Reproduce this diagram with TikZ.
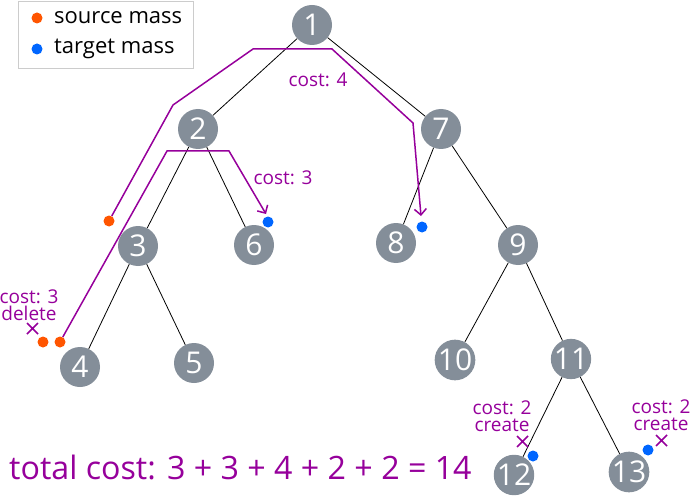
\documentclass[tikz,border=0pt]{standalone}
\usepackage{fontspec}
\setmainfont{Open Sans}
\usetikzlibrary{arrows.meta}
\definecolor{ngray}{RGB}{132,142,153}
\definecolor{cpurple}{RGB}{150,0,155}
\definecolor{corange}{RGB}{255,85,0}
\definecolor{cblue}{RGB}{0,102,255}
\tikzset{
  tnode/.style={circle,fill=ngray,minimum size=40pt,inner sep=0pt,text=white,font=\fontsize{30}{30}\selectfont},
  tedge/.style={black,line width=0.8pt},
  flow/.style={cpurple,line width=1.5pt,line join=miter},
  flowarrow/.style={flow,-{Straight Barb[length=6pt,width=12pt,line width=1.5pt]}},
  srcdot/.style={circle,fill=corange,minimum size=11pt,inner sep=0pt},
  tgtdot/.style={circle,fill=cblue,minimum size=11pt,inner sep=0pt},
  costlbl/.style={text=cpurple,font=\fontsize{19}{17}\selectfont,align=center,inner sep=0pt},
  crossmark/.style={cpurple,line width=1.5pt}
}
\begin{document}
\begin{tikzpicture}[x=1pt,y=-1pt]
\useasboundingbox (0,0) rectangle (690,497);
% legend
\node[draw=black!20,line width=1pt,minimum width=175pt,minimum height=67pt,inner sep=0pt] (legend) at (105.5,35) {};
\node[srcdot] (ls) at (37,18) {};
\node[tgtdot] (lt) at (37,49) {};
\node[anchor=west,inner sep=0pt,font=\fontsize{22}{22}\selectfont] (lst) at (54,18) {source mass};
\node[anchor=west,inner sep=0pt,font=\fontsize{22}{22}\selectfont] (ltt) at (54,49) {target mass};
% tree nodes
\node[tnode] (n1) at (312,25) {1};
\node[tnode] (n2) at (198,129) {2};
\node[tnode] (n7) at (441,129) {7};
\node[tnode] (n3) at (138,246) {3};
\node[tnode] (n6) at (254,245) {6};
\node[tnode] (n8) at (396,243) {8};
\node[tnode] (n9) at (518,245) {9};
\node[tnode] (n4) at (80,367) {4};
\node[tnode] (n5) at (194,363) {5};
\node[tnode] (n10) at (455,360) {10};
\node[tnode] (n11) at (571,359) {11};
\node[tnode] (n12) at (514,475) {12};
\node[tnode] (n13) at (629,472) {13};
% edges
\draw[tedge] (n1) -- (n2);
\draw[tedge] (n1) -- (n7);
\draw[tedge] (n2) -- (n3);
\draw[tedge] (n2) -- (n6);
\draw[tedge] (n3) -- (n4);
\draw[tedge] (n3) -- (n5);
\draw[tedge] (n7) -- (n8);
\draw[tedge] (n7) -- (n9);
\draw[tedge] (n9) -- (n10);
\draw[tedge] (n9) -- (n11);
\draw[tedge] (n11) -- (n12);
\draw[tedge] (n11) -- (n13);
% mass dots
\node[srcdot] (o1) at (109,221) {};
\node[srcdot] (o2) at (43,342) {};
\node[srcdot] (o3) at (60,342) {};
\node[tgtdot] (b6) at (268,222) {};
\node[tgtdot] (b8) at (422,227) {};
\node[tgtdot] (b12) at (533,456) {};
\node[tgtdot] (b13) at (648,450) {};
% flow paths
\coordinate (e6) at (266,214);
\coordinate (e8) at (421,216);
\draw[flowarrow] (o3) -- (167,151) -- (229,151) -- (e6);
\draw[flowarrow] (o1) -- (173,105) -- (253,49) -- (332,49) -- (413,123) -- (e8);
% cost labels
\node[costlbl] (c4) at (318,80) {cost: 4};
\node[costlbl] (c3) at (283,178) {cost: 3};
\node[costlbl] (cdel) at (29,305) {cost: 3\\delete};
\node[costlbl] (c12) at (502,416) {cost: 2\\create};
\node[costlbl] (c13) at (661,415) {cost: 2\\create};
% crosses
\draw[crossmark] (27,323) -- (38,334) (27,334) -- (38,323);
\draw[crossmark] (517,436) -- (528,447) (517,447) -- (528,436);
\draw[crossmark] (656,435) -- (667,446) (656,446) -- (667,435);
% total
\node[anchor=west,inner sep=0pt,text=cpurple,font=\fontsize{32.2}{33}\selectfont] (total) at (9,467) {total cost: 3 + 3 + 4 + 2 + 2 = 14};
\end{tikzpicture}
\end{document}
